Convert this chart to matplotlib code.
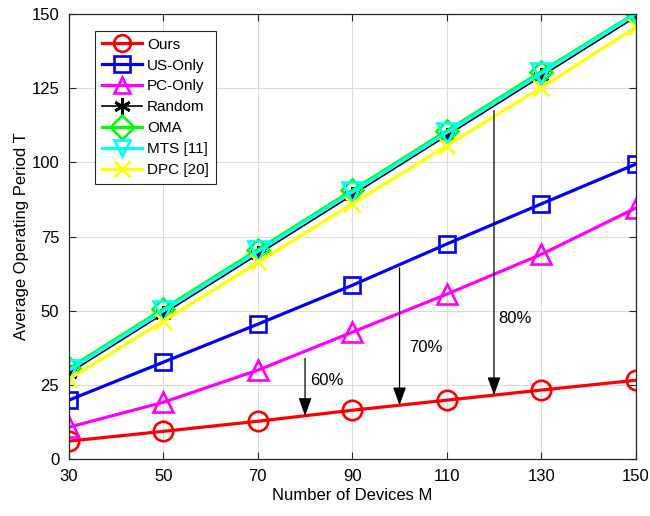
import numpy as np
import matplotlib
matplotlib.use('Agg')
import matplotlib.pyplot as plt

plt.rcParams['font.family'] = ['Liberation Sans', 'DejaVu Sans']

devices = [30, 50, 70, 90, 110, 130, 150]

ours = [6.1, 9.4, 12.8, 16.5, 19.9, 23.3, 26.6]
us_only = [19.9, 32.7, 45.5, 58.6, 72.5, 86.0, 99.4]
pc_only = [10.8, 19.2, 30.0, 42.8, 55.6, 69.0, 84.6]
random_ = [29.0, 49.0, 69.0, 89.0, 109.0, 129.0, 149.0]
oma = [30.6, 50.6, 70.6, 90.6, 110.6, 130.6, 150.3]
mts = [30.0, 50.0, 70.0, 90.0, 110.0, 130.0, 150.0]
dpc = [27.0, 46.5, 66.3, 86.0, 105.6, 125.2, 145.5]

# arrow annotations: x, start y, end y, label x, label y, text
arrow_x = [80, 100, 120]
arrow_top = [34.0, 64.5, 117.5]
arrow_end = [14.6, 18.2, 21.6]
label_pos = [(81, 26.5), (102, 37.5), (121, 47.5)]
label_txt = ['60%', '70%', '80%']

fig = plt.figure(figsize=(6.5, 5.16), dpi=100)
ax = fig.add_axes([0.106, 0.110, 0.872, 0.863])

lw = 2.3
mew = 1.9
ax.plot(devices, ours, color='red', marker='o', ms=14, mfc='none', mew=mew, lw=lw, label='Ours')
ax.plot(devices, us_only, color='blue', marker='s', ms=11, mfc='none', mew=mew, lw=lw, label='US-Only')
ax.plot(devices, pc_only, color='magenta', marker='^', ms=15, mfc='none', mew=mew, lw=lw, label='PC-Only')
ax.plot(devices, random_, color='black', marker=(6, 2, 0), ms=12, mew=mew, lw=1.2, label='Random')
ax.plot(devices, oma, color='#00ff00', marker='D', ms=11, mfc='none', mew=mew, lw=lw, label='OMA')
ax.plot(devices, mts, color='cyan', marker='v', ms=15, mfc='none', mew=mew, lw=lw, label='MTS [11]')
ax.plot(devices, dpc, color='yellow', marker='x', ms=12, mew=mew, lw=lw, label='DPC [20]')

for x, y0, y1 in zip(arrow_x, arrow_top, arrow_end):
    ax.annotate('', xy=(x, y1), xytext=(x, y0),
                arrowprops=dict(arrowstyle='-|>,head_length=1.1,head_width=0.4',
                                color='black', lw=0.9, shrinkA=0, shrinkB=0))
for (tx, ty), t in zip(label_pos, label_txt):
    ax.text(tx, ty, t, fontsize=12, ha='left', va='center')

ax.set_xlim(30, 150)
ax.set_ylim(0, 150)
ax.set_xticks(devices)
ax.set_yticks([0, 25, 50, 75, 100, 125, 150])
ax.tick_params(direction='in', top=True, right=True, labelsize=12, length=5, pad=7, color='#262626')
ax.grid(True, color='#dcdcdc', lw=0.8)
ax.set_axisbelow(True)
for s in ax.spines.values():
    s.set_color('#262626')
    s.set_linewidth(0.9)

ax.set_xlabel('Number of Devices M', fontsize=12, labelpad=3)
ax.set_ylabel('Average Operating Period T', fontsize=12, labelpad=2)

leg = ax.legend(loc='upper left', bbox_to_anchor=(0.046, 0.962), fontsize=11,
                handlelength=2.6, borderpad=0.45, labelspacing=0.45,
                handletextpad=0.35, fancybox=False, framealpha=1, edgecolor='#262626',
                borderaxespad=0)
leg.get_frame().set_linewidth(0.8)
for h in leg.legend_handles:
    h.set_markersize(12)

fig.savefig('out.png', dpi=100)
